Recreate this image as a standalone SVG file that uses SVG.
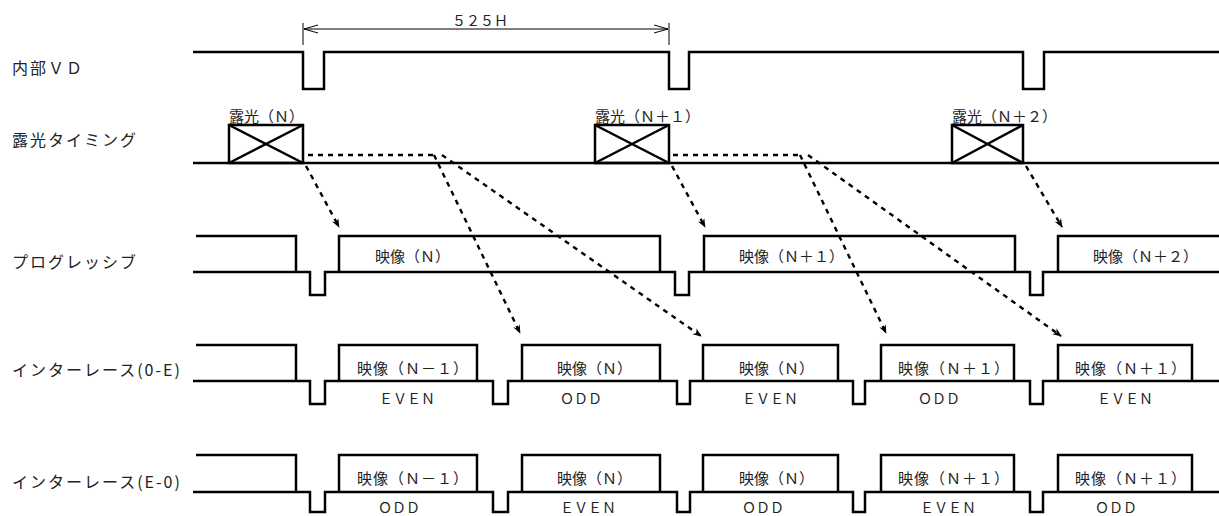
<svg xmlns="http://www.w3.org/2000/svg" width="1219" height="516" viewBox="0 0 1219 516">
<style>
.sig{fill:none;stroke:#000;stroke-width:2.5;stroke-linejoin:miter}
.thin{fill:none;stroke:#000;stroke-width:1}
.dash{fill:none;stroke:#000;stroke-width:2.4;stroke-dasharray:5 5}
.lbl{font-family:"Noto Sans CJK JP","Noto Sans",sans-serif;font-size:16px;fill:#222;letter-spacing:2px}
.t{font-family:"Noto Sans CJK JP","Noto Sans",sans-serif;font-size:15px;fill:#222}
.sm{font-family:"Noto Sans CJK JP","Noto Sans",sans-serif;font-size:14px;fill:#222}
</style>
<defs>
<marker id="ah" viewBox="0 0 10 10" refX="9" refY="5" markerWidth="9" markerHeight="9" markerUnits="userSpaceOnUse" orient="auto">
<path d="M0,1 L10,5 L0,9 L3,5 Z" fill="#000"/>
</marker>
<marker id="oa" viewBox="0 0 14 10" refX="14" refY="5" markerWidth="14" markerHeight="10" markerUnits="userSpaceOnUse" orient="auto-start-reverse">
<path d="M0,1 L14,5 L0,9" fill="none" stroke="#000" stroke-width="1"/>
</marker>
</defs>

<g id="labels">
<text class="lbl" x="12" y="74">内部ＶＤ</text>
<text class="lbl" x="12" y="146">露光タイミング</text>
<text class="lbl" x="12" y="268">プログレッシブ</text>
<text class="lbl" x="12" y="376">インターレース(0-E)</text>
<text class="lbl" x="12" y="488">インターレース(E-0)</text>
</g>

<g id="dimension">
<line class="thin" x1="303" y1="23" x2="303" y2="45"/>
<line class="thin" x1="669" y1="23" x2="669" y2="45"/>
<line class="thin" x1="304" y1="29" x2="668" y2="29" marker-start="url(#oa)" marker-end="url(#oa)"/>
<text class="sm" x="452" y="26" font-size="15">５２５Ｈ</text>
</g>

<g id="vd">
<path class="sig" d="M193,52 H303 V89 H324 V52 H669 V89 H689 V52 H1023 V89 H1044 V52 H1219"/>
</g>

<g id="exposure">
<line class="sig" x1="193" y1="163" x2="1219" y2="163"/>
<g id="exp-n">
<rect class="sig" x="229" y="125" width="74" height="38"/>
<path class="sig" d="M229,125 L303,163 M229,163 L303,125"/>
<text class="t" x="229" y="122">露光（Ｎ）</text>
</g>
<g id="exp-n1">
<rect class="sig" x="595" y="125" width="74" height="38"/>
<path class="sig" d="M595,125 L669,163 M595,163 L669,125"/>
<text class="t" x="595" y="122">露光（Ｎ＋１）</text>
</g>
<g id="exp-n2">
<rect class="sig" x="952" y="125" width="71" height="38"/>
<path class="sig" d="M952,125 L1023,163 M952,163 L1023,125"/>
<text class="t" x="952" y="122">露光（Ｎ＋２）</text>
</g>
</g>

<g id="progressive">
<path class="sig" d="M193,272 H310 V295 H325 V272 H675 V295 H689 V272 H1030 V295 H1043 V272 H1219"/>
<path class="sig" d="M196,236 H296 V272 M339,272 V236 H660 V272 M704,272 V236 H1015 V272 M1058,272 V236 H1219"/>
<text class="t" x="375" y="262">映像（Ｎ）</text>
<text class="t" x="739" y="262">映像（Ｎ＋１）</text>
<text class="t" x="1093" y="262">映像（Ｎ＋２）</text>
</g>

<g id="interlace-oe">
<path class="sig" d="M193,381 H310 V404 H325 V381 H493 V404 H508 V381 H677 V404 H690 V381 H853 V404 H865 V381 H1030 V404 H1043 V381 H1219"/>
<path class="sig" d="M196,345 H296 V381 M339,381 V345 H477 V381 M522,381 V345 H660 V381 M703,381 V345 H838 V381 M881,381 V345 H1014 V381 M1058,381 V345 H1192 V381"/>
<text class="t" x="357" y="374" letter-spacing="1">映像（Ｎ－１）</text>
<text class="t" x="557" y="374">映像（Ｎ）</text>
<text class="t" x="739" y="374">映像（Ｎ）</text>
<text class="t" x="898" y="374" letter-spacing="1">映像（Ｎ＋１）</text>
<text class="t" x="1075" y="374" letter-spacing="1">映像（Ｎ＋１）</text>
<text class="sm" x="379" y="404">ＥＶＥＮ</text>
<text class="sm" x="560" y="404">ＯＤＤ</text>
<text class="sm" x="742" y="404">ＥＶＥＮ</text>
<text class="sm" x="918" y="404">ＯＤＤ</text>
<text class="sm" x="1097" y="404">ＥＶＥＮ</text>
</g>

<g id="interlace-eo">
<path class="sig" d="M193,492 H310 V512 H325 V492 H493 V512 H508 V492 H677 V512 H690 V492 H853 V512 H865 V492 H1030 V512 H1043 V492 H1219"/>
<path class="sig" d="M196,455 H296 V492 M339,492 V455 H477 V492 M522,492 V455 H660 V492 M703,492 V455 H838 V492 M881,492 V455 H1014 V492 M1058,492 V455 H1192 V492"/>
<text class="t" x="357" y="484" letter-spacing="1">映像（Ｎ－１）</text>
<text class="t" x="557" y="484">映像（Ｎ）</text>
<text class="t" x="739" y="484">映像（Ｎ）</text>
<text class="t" x="898" y="484" letter-spacing="1">映像（Ｎ＋１）</text>
<text class="t" x="1075" y="484" letter-spacing="1">映像（Ｎ＋１）</text>
<text class="sm" x="378" y="513">ＯＤＤ</text>
<text class="sm" x="560" y="513">ＥＶＥＮ</text>
<text class="sm" x="742" y="513">ＯＤＤ</text>
<text class="sm" x="920" y="513">ＥＶＥＮ</text>
<text class="sm" x="1095" y="513">ＯＤＤ</text>
</g>

<g id="connectors">
<line class="dash" x1="308" y1="155" x2="433" y2="155"/>
<line class="dash" x1="673" y1="155" x2="800" y2="155"/>
<line class="dash" x1="306" y1="166" x2="339" y2="227" marker-end="url(#ah)"/>
<line class="dash" x1="434" y1="155" x2="520" y2="333" marker-end="url(#ah)"/>
<line class="dash" x1="442" y1="155" x2="701" y2="336" marker-end="url(#ah)"/>
<line class="dash" x1="672" y1="166" x2="705" y2="227" marker-end="url(#ah)"/>
<line class="dash" x1="800" y1="155" x2="886" y2="333" marker-end="url(#ah)"/>
<line class="dash" x1="808" y1="155" x2="1061" y2="336" marker-end="url(#ah)"/>
<line class="dash" x1="1026" y1="166" x2="1062" y2="227" marker-end="url(#ah)"/>
</g>
</svg>
